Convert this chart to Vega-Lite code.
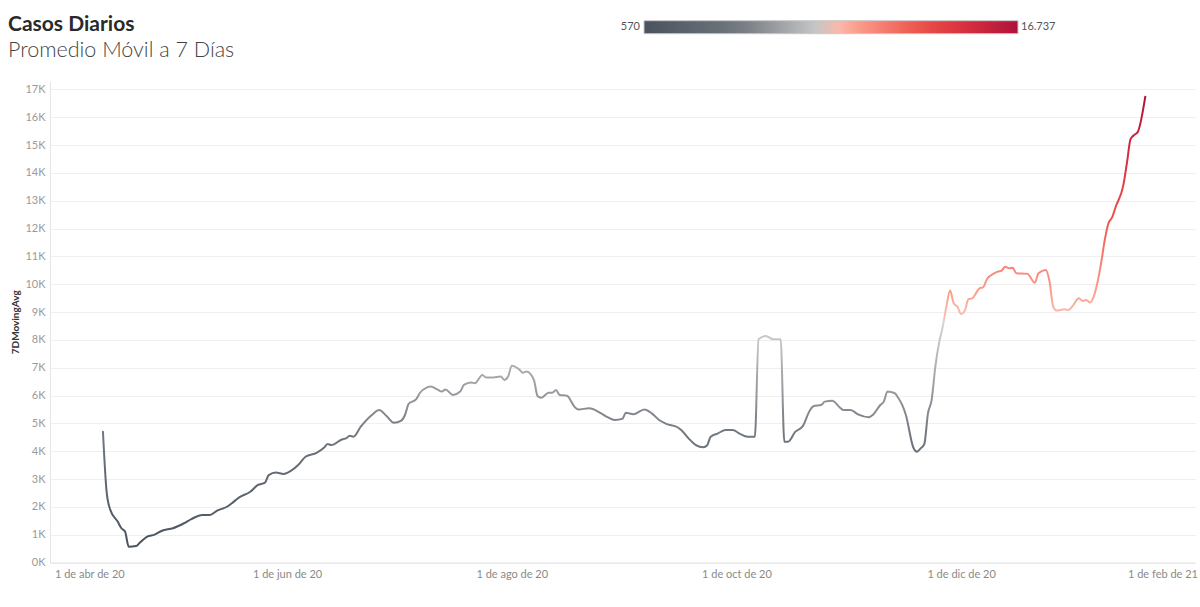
{
  "$schema": "https://vega.github.io/schema/vega-lite/v6.json",
  "width": 1145,
  "height": 481.5,
  "autosize": "none",
  "padding": {"left": 50, "top": 81, "right": 5, "bottom": 44.5},
  "background": "white",
  "title": {
    "text": "Casos Diarios",
    "subtitle": "Promedio Móvil a 7 Días",
    "anchor": "start",
    "frame": "group",
    "dx": -42,
    "offset": -41,
    "font": "Lato",
    "fontSize": 21,
    "fontWeight": "bold",
    "color": "#2a2a2a",
    "subtitleFont": "Lato",
    "subtitleFontSize": 21.5,
    "subtitleFontWeight": 300,
    "subtitleColor": "#444444",
    "subtitlePadding": 5
  },
  "data": {
    "values": [
      {"date": "2020-04-12", "value": 4700},
      {"date": "2020-04-13", "value": 2540},
      {"date": "2020-04-14", "value": 1890},
      {"date": "2020-04-16", "value": 1470},
      {"date": "2020-04-17", "value": 1230},
      {"date": "2020-04-18", "value": 1110},
      {"date": "2020-04-19", "value": 570},
      {"date": "2020-04-21", "value": 590},
      {"date": "2020-04-22", "value": 710},
      {"date": "2020-04-24", "value": 930},
      {"date": "2020-04-26", "value": 1000},
      {"date": "2020-04-28", "value": 1140},
      {"date": "2020-05-01", "value": 1230},
      {"date": "2020-05-04", "value": 1410},
      {"date": "2020-05-06", "value": 1560},
      {"date": "2020-05-09", "value": 1710},
      {"date": "2020-05-11", "value": 1710},
      {"date": "2020-05-13", "value": 1860},
      {"date": "2020-05-16", "value": 2030},
      {"date": "2020-05-17", "value": 2130},
      {"date": "2020-05-19", "value": 2340},
      {"date": "2020-05-22", "value": 2540},
      {"date": "2020-05-24", "value": 2780},
      {"date": "2020-05-26", "value": 2870},
      {"date": "2020-05-27", "value": 3140},
      {"date": "2020-05-29", "value": 3230},
      {"date": "2020-05-31", "value": 3180},
      {"date": "2020-06-02", "value": 3290},
      {"date": "2020-06-04", "value": 3500},
      {"date": "2020-06-06", "value": 3800},
      {"date": "2020-06-09", "value": 3940},
      {"date": "2020-06-11", "value": 4120},
      {"date": "2020-06-12", "value": 4260},
      {"date": "2020-06-13", "value": 4220},
      {"date": "2020-06-16", "value": 4430},
      {"date": "2020-06-17", "value": 4460},
      {"date": "2020-06-18", "value": 4550},
      {"date": "2020-06-19", "value": 4520},
      {"date": "2020-06-21", "value": 4880},
      {"date": "2020-06-24", "value": 5300},
      {"date": "2020-06-26", "value": 5480},
      {"date": "2020-06-28", "value": 5260},
      {"date": "2020-06-30", "value": 5020},
      {"date": "2020-07-02", "value": 5100},
      {"date": "2020-07-03", "value": 5300},
      {"date": "2020-07-04", "value": 5700},
      {"date": "2020-07-06", "value": 5860},
      {"date": "2020-07-07", "value": 6080},
      {"date": "2020-07-09", "value": 6290},
      {"date": "2020-07-10", "value": 6320},
      {"date": "2020-07-12", "value": 6200},
      {"date": "2020-07-13", "value": 6140},
      {"date": "2020-07-14", "value": 6220},
      {"date": "2020-07-16", "value": 6020},
      {"date": "2020-07-18", "value": 6140},
      {"date": "2020-07-19", "value": 6380},
      {"date": "2020-07-21", "value": 6470},
      {"date": "2020-07-22", "value": 6440},
      {"date": "2020-07-24", "value": 6740},
      {"date": "2020-07-25", "value": 6650},
      {"date": "2020-07-27", "value": 6650},
      {"date": "2020-07-29", "value": 6680},
      {"date": "2020-07-30", "value": 6560},
      {"date": "2020-07-31", "value": 6680},
      {"date": "2020-08-01", "value": 7070},
      {"date": "2020-08-03", "value": 6940},
      {"date": "2020-08-04", "value": 6820},
      {"date": "2020-08-05", "value": 6860},
      {"date": "2020-08-07", "value": 6560},
      {"date": "2020-08-08", "value": 5980},
      {"date": "2020-08-09", "value": 5920},
      {"date": "2020-08-11", "value": 6100},
      {"date": "2020-08-12", "value": 6100},
      {"date": "2020-08-13", "value": 6200},
      {"date": "2020-08-14", "value": 6020},
      {"date": "2020-08-16", "value": 5990},
      {"date": "2020-08-18", "value": 5600},
      {"date": "2020-08-19", "value": 5500},
      {"date": "2020-08-22", "value": 5540},
      {"date": "2020-08-25", "value": 5380},
      {"date": "2020-08-27", "value": 5220},
      {"date": "2020-08-29", "value": 5120},
      {"date": "2020-08-31", "value": 5160},
      {"date": "2020-09-01", "value": 5380},
      {"date": "2020-09-03", "value": 5330},
      {"date": "2020-09-06", "value": 5500},
      {"date": "2020-09-08", "value": 5360},
      {"date": "2020-09-10", "value": 5120},
      {"date": "2020-09-12", "value": 4980},
      {"date": "2020-09-15", "value": 4860},
      {"date": "2020-09-16", "value": 4760},
      {"date": "2020-09-18", "value": 4460},
      {"date": "2020-09-20", "value": 4220},
      {"date": "2020-09-22", "value": 4140},
      {"date": "2020-09-23", "value": 4200},
      {"date": "2020-09-24", "value": 4520},
      {"date": "2020-09-26", "value": 4640},
      {"date": "2020-09-28", "value": 4760},
      {"date": "2020-09-30", "value": 4760},
      {"date": "2020-10-02", "value": 4620},
      {"date": "2020-10-04", "value": 4520},
      {"date": "2020-10-06", "value": 4520},
      {"date": "2020-10-07", "value": 8020},
      {"date": "2020-10-09", "value": 8140},
      {"date": "2020-10-11", "value": 8020},
      {"date": "2020-10-13", "value": 8020},
      {"date": "2020-10-14", "value": 4340},
      {"date": "2020-10-15", "value": 4340},
      {"date": "2020-10-17", "value": 4700},
      {"date": "2020-10-19", "value": 4900},
      {"date": "2020-10-21", "value": 5480},
      {"date": "2020-10-22", "value": 5620},
      {"date": "2020-10-24", "value": 5660},
      {"date": "2020-10-25", "value": 5780},
      {"date": "2020-10-27", "value": 5810},
      {"date": "2020-10-29", "value": 5580},
      {"date": "2020-10-30", "value": 5480},
      {"date": "2020-11-01", "value": 5480},
      {"date": "2020-11-03", "value": 5320},
      {"date": "2020-11-06", "value": 5220},
      {"date": "2020-11-07", "value": 5300},
      {"date": "2020-11-09", "value": 5650},
      {"date": "2020-11-10", "value": 5780},
      {"date": "2020-11-11", "value": 6140},
      {"date": "2020-11-13", "value": 6080},
      {"date": "2020-11-14", "value": 5900},
      {"date": "2020-11-15", "value": 5660},
      {"date": "2020-11-16", "value": 5300},
      {"date": "2020-11-18", "value": 4140},
      {"date": "2020-11-19", "value": 3980},
      {"date": "2020-11-20", "value": 4100},
      {"date": "2020-11-21", "value": 4250},
      {"date": "2020-11-22", "value": 5360},
      {"date": "2020-11-23", "value": 5840},
      {"date": "2020-11-24", "value": 7040},
      {"date": "2020-11-25", "value": 7880},
      {"date": "2020-11-26", "value": 8470},
      {"date": "2020-11-27", "value": 9190},
      {"date": "2020-11-28", "value": 9770},
      {"date": "2020-11-29", "value": 9310},
      {"date": "2020-11-30", "value": 9190},
      {"date": "2020-12-01", "value": 8930},
      {"date": "2020-12-02", "value": 9050},
      {"date": "2020-12-03", "value": 9460},
      {"date": "2020-12-04", "value": 9490},
      {"date": "2020-12-06", "value": 9850},
      {"date": "2020-12-07", "value": 9890},
      {"date": "2020-12-08", "value": 10180},
      {"date": "2020-12-10", "value": 10390},
      {"date": "2020-12-11", "value": 10450},
      {"date": "2020-12-12", "value": 10490},
      {"date": "2020-12-13", "value": 10630},
      {"date": "2020-12-14", "value": 10570},
      {"date": "2020-12-15", "value": 10590},
      {"date": "2020-12-16", "value": 10390},
      {"date": "2020-12-19", "value": 10370},
      {"date": "2020-12-21", "value": 10050},
      {"date": "2020-12-22", "value": 10390},
      {"date": "2020-12-24", "value": 10510},
      {"date": "2020-12-25", "value": 10100},
      {"date": "2020-12-26", "value": 9190},
      {"date": "2020-12-27", "value": 9050},
      {"date": "2020-12-29", "value": 9100},
      {"date": "2020-12-30", "value": 9070},
      {"date": "2020-12-31", "value": 9170},
      {"date": "2021-01-02", "value": 9490},
      {"date": "2021-01-03", "value": 9400},
      {"date": "2021-01-04", "value": 9430},
      {"date": "2021-01-05", "value": 9340},
      {"date": "2021-01-06", "value": 9550},
      {"date": "2021-01-07", "value": 10050},
      {"date": "2021-01-08", "value": 10750},
      {"date": "2021-01-09", "value": 11590},
      {"date": "2021-01-10", "value": 12190},
      {"date": "2021-01-11", "value": 12400},
      {"date": "2021-01-12", "value": 12790},
      {"date": "2021-01-14", "value": 13530},
      {"date": "2021-01-15", "value": 14340},
      {"date": "2021-01-16", "value": 15210},
      {"date": "2021-01-17", "value": 15360},
      {"date": "2021-01-18", "value": 15480},
      {"date": "2021-01-20", "value": 16737}
    ]
  },
  "encoding": {
    "x": {
      "field": "date",
      "type": "temporal",
      "scale": {
        "type": "utc",
        "domain": [
          {"year": 2020, "month": 3, "date": 28, "hours": 15, "utc": true},
          {"year": 2021, "month": 2, "date": 2, "hours": 12, "utc": true}
        ]
      },
      "axis": {
        "title": null,
        "grid": false,
        "ticks": false,
        "domain": true,
        "domainColor": "#e4e4e4",
        "values": [
          {"year": 2020, "month": 4, "date": 1, "utc": true},
          {"year": 2020, "month": 6, "date": 1, "utc": true},
          {"year": 2020, "month": 8, "date": 1, "utc": true},
          {"year": 2020, "month": 10, "date": 1, "utc": true},
          {"year": 2020, "month": 12, "date": 1, "utc": true},
          {"year": 2021, "month": 2, "date": 1, "utc": true}
        ],
        "labelExpr": "'1 de ' + ['ene','feb','mar','abr','may','jun','jul','ago','sep','oct','nov','dic'][utcmonth(datum.value)] + ' de ' + utcFormat(datum.value, '%y')",
        "labelFont": "Lato",
        "labelFontSize": 11,
        "labelColor": "#8a8a8a",
        "labelPadding": 6,
        "labelFlush": 20,
        "labelFlushOffset": 8
      }
    },
    "y": {
      "field": "value",
      "type": "quantitative",
      "scale": {"domain": [0, 17300], "nice": false, "zero": true},
      "axis": {
        "title": "7DMovingAvg",
        "titleFont": "Lato",
        "titleFontSize": 10,
        "titleFontWeight": "bold",
        "titleColor": "#333333",
        "titlePadding": 4,
        "values": [0, 1000, 2000, 3000, 4000, 5000, 6000, 7000, 8000, 9000, 10000, 11000, 12000, 13000, 14000, 15000, 16000, 17000],
        "labelExpr": "format(datum.value / 1000, 'd') + 'K'",
        "labelFont": "Lato",
        "labelFontSize": 11,
        "labelColor": "#9a9a9a",
        "labelPadding": 5,
        "ticks": false,
        "grid": true,
        "gridColor": "#efefef",
        "domain": true,
        "domainColor": "#e4e4e4"
      }
    }
  },
  "layer": [
    {
      "mark": {
        "type": "line",
        "interpolate": "monotone",
        "strokeWidth": 2,
        "strokeJoin": "round",
        "strokeCap": "round",
        "stroke": {
          "gradient": "linear",
          "x1": 0, "y1": 1, "x2": 0, "y2": 0,
          "stops": [
            {"offset": 0, "color": "#49525e"},
            {"offset": 0.25, "color": "#70777e"},
            {"offset": 0.5, "color": "#d5d5d5"},
            {"offset": 0.505, "color": "#f9c2b4"},
            {"offset": 0.56, "color": "#fca190"},
            {"offset": 0.74, "color": "#ec5049"},
            {"offset": 0.87, "color": "#d52d3e"},
            {"offset": 1, "color": "#ae123a"}
          ]
        }
      }
    },
    {
      "mark": {"type": "point", "opacity": 0, "size": 1},
      "encoding": {
        "color": {
          "field": "value",
          "type": "quantitative",
          "scale": {
            "domain": [570, 4612, 8653, 8735, 9624, 12534, 14635, 16737],
            "range": ["#49525e", "#70777e", "#d5d5d5", "#f9c2b4", "#fca190", "#ec5049", "#d52d3e", "#ae123a"],
            "interpolate": "rgb"
          },
          "legend": {
            "title": null,
            "orient": "none",
            "direction": "horizontal",
            "legendX": 594,
            "legendY": -60.3,
            "padding": 0,
            "gradientLength": 374,
            "gradientThickness": 13,
            "gradientStrokeColor": "#c8c8c8",
            "gradientStrokeWidth": 1,
            "values": [570, 16737],
            "labelExpr": "replace(format(datum.value, ','), ',', '.')",
            "labelFont": "Lato",
            "labelFontSize": 11,
            "labelColor": "#555555",
            "encode": {
              "gradient": {"update": {"opacity": {"value": 1}}},
              "labels": {
                "update": {
                  "align": {"signal": "datum.value < 1000 ? 'right' : 'left'"},
                  "dx": {"signal": "datum.value < 1000 ? -4 : 3"},
                  "y": {"value": 6.5},
                  "baseline": {"value": "middle"}
                }
              }
            }
          }
        }
      }
    }
  ],
  "config": {
    "view": {"stroke": null}
  }
}
